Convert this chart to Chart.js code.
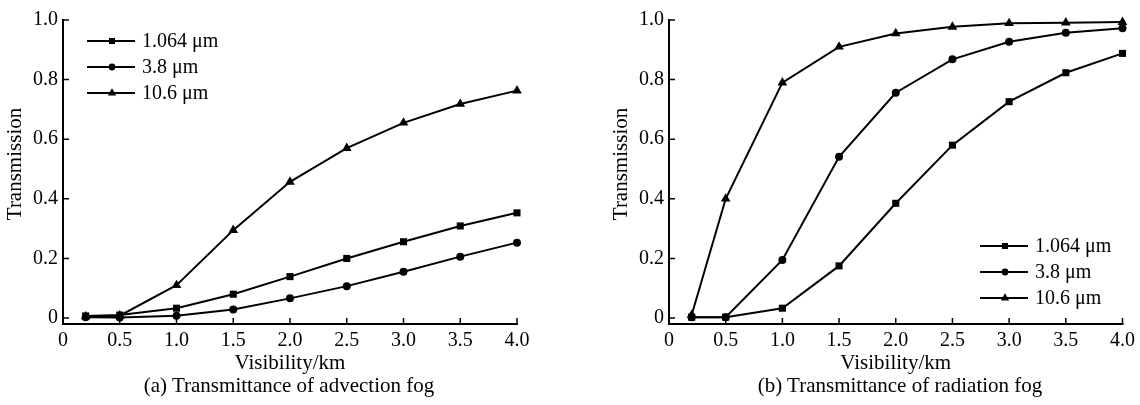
<!DOCTYPE html>
<html><head><meta charset="utf-8">
<script src="https://cdn.jsdelivr.net/npm/chart.js@4.4.1/dist/chart.umd.min.js"></script>
<style>
html,body{margin:0;padding:0;background:#fff}
body{width:1140px;height:405px;overflow:hidden;position:relative;font-family:"Liberation Serif","Times New Roman",serif}
.wrap{position:absolute;top:0;height:405px}
.cap{position:absolute;top:373px;font-size:21px;line-height:24px;color:#000;white-space:nowrap;transform:translateX(-50%)}
</style></head><body>
<div class="wrap" style="left:0;width:600px"><canvas id="c1"></canvas></div>
<div class="wrap" style="left:606px;width:534px"><canvas id="c2"></canvas></div>
<div class="cap" style="left:289px">(a) Transmittance of advection fog</div>
<div class="cap" style="left:900px">(b) Transmittance of radiation fog</div>
<script>
// ---- data ----
const visibility = [0.2, 0.5, 1.0, 1.5, 2.0, 2.5, 3.0, 3.5, 4.0];
const seriesLabels = ['1.064 \u03bcm', '3.8 \u03bcm', '10.6 \u03bcm'];
const advection1064 = [0.007, 0.010, 0.033, 0.080, 0.139, 0.200, 0.256, 0.309, 0.353];
const advection38   = [0.003, 0.002, 0.008, 0.029, 0.066, 0.107, 0.155, 0.206, 0.253];
const advection106  = [0.005, 0.008, 0.110, 0.295, 0.457, 0.570, 0.655, 0.718, 0.763];
const radiation1064 = [0.003, 0.003, 0.033, 0.175, 0.385, 0.580, 0.726, 0.823, 0.888];
const radiation38   = [0.003, 0.003, 0.195, 0.541, 0.756, 0.868, 0.927, 0.957, 0.972];
const radiation106  = [0.010, 0.400, 0.790, 0.910, 0.955, 0.977, 0.989, 0.991, 0.993];
const xTicks = [0, 0.5, 1.0, 1.5, 2.0, 2.5, 3.0, 3.5, 4.0];
const yTicks = [0, 0.2, 0.4, 0.6, 0.8, 1.0];
const xTitle = 'Visibility/km';
const yTitle = 'Transmission';

const FONT = '"Liberation Serif", "Times New Roman", serif';
const styles = [
  {pointStyle: 'rect', pointRadius: 5},
  {pointStyle: 'circle', pointRadius: 4},
  {pointStyle: 'triangle', pointRadius: 5.6}
];

function fmtX(v){ return v === 0 ? '0' : v.toFixed(1); }
function fmtY(v){ return v === 0 ? '0' : v.toFixed(1); }

function drawMarker(ctx, style, r, x, y){
  ctx.beginPath();
  if (style === 'rect') {
    const s = Math.SQRT1_2 * r;
    ctx.rect(x - s, y - s, 2*s, 2*s);
  } else if (style === 'circle') {
    ctx.arc(x, y, r, 0, Math.PI*2);
  } else {
    ctx.moveTo(x, y - r);
    ctx.lineTo(x + r*Math.cos(Math.PI/6), y + r/2);
    ctx.lineTo(x - r*Math.cos(Math.PI/6), y + r/2);
    ctx.closePath();
  }
  ctx.fill();
}

const framePlugin = {
  id: 'frame',
  afterDatasetsDraw(chart, args, opts) {
    const ctx = chart.ctx, xs = chart.scales.x, ys = chart.scales.y;
    ctx.save();
    ctx.strokeStyle = '#000';
    ctx.lineWidth = 2;
    ctx.lineCap = 'square';
    ctx.beginPath();
    ctx.moveTo(xs.left, ys.top);
    ctx.lineTo(xs.left, ys.bottom);
    ctx.lineTo(xs.right, ys.bottom);
    ctx.stroke();
    ctx.lineWidth = 1.5;
    ctx.lineCap = 'butt';
    ctx.beginPath();
    yTicks.forEach(v => { const p = ys.getPixelForValue(v); ctx.moveTo(xs.left, p); ctx.lineTo(xs.left + 6, p); });
    xTicks.forEach(v => { const p = xs.getPixelForValue(v); ctx.moveTo(p, ys.bottom); ctx.lineTo(p, ys.bottom - 6); });
    ctx.stroke();
    // legend
    const L = opts.legend;
    ctx.font = '20px ' + FONT;
    ctx.textBaseline = 'middle';
    ctx.textAlign = 'left';
    ctx.fillStyle = '#000';
    chart.data.datasets.forEach((ds, i) => {
      const cy = L.y + i * L.dy;
      ctx.lineWidth = 2;
      ctx.beginPath();
      ctx.moveTo(L.x, cy); ctx.lineTo(L.x + 48, cy);
      ctx.stroke();
      drawMarker(ctx, ds.pointStyle, ds.pointRadius * 0.85, L.x + 25, cy);
      ctx.fillText(ds.label, L.x + 55, cy + 1);
    });
    // y title (drawn slightly above the axis centre, as in the source)
    ctx.font = '21px ' + FONT;
    ctx.textAlign = 'center';
    ctx.textBaseline = 'middle';
    ctx.translate(15, (ys.top + ys.bottom) / 2 - 8);
    ctx.rotate(-Math.PI / 2);
    ctx.fillText(opts.yTitle, 0, 0);
    ctx.restore();
  }
};

function makeChart(id, series, legendPos, rightPad){
  const datasets = series.map((vals, i) => ({
    label: seriesLabels[i],
    data: visibility.map((x, j) => ({x: x, y: vals[j]})),
    borderColor: '#000',
    backgroundColor: '#000',
    borderWidth: 2,
    pointStyle: styles[i].pointStyle,
    pointRadius: styles[i].pointRadius,
    pointBorderWidth: 0,
    pointBackgroundColor: '#000',
    tension: 0,
    clip: false
  }));
  return new Chart(document.getElementById(id), {
    type: 'line',
    data: {datasets},
    plugins: [framePlugin],
    options: {
      responsive: true,
      maintainAspectRatio: false,
      animation: false,
      events: [],
      layout: {padding: {top: 20, right: rightPad, left: 0, bottom: 0}},
      plugins: {
        legend: {display: false},
        tooltip: {enabled: false},
        frame: {legend: legendPos, yTitle: yTitle}
      },
      scales: {
        x: {
          type: 'linear', min: 0, max: 4,
          afterFit: s => { s.height = 81; },
          afterBuildTicks: s => { s.ticks = xTicks.map(v => ({value: v})); },
          grid: {display: false, drawTicks: false},
          border: {display: false},
          ticks: {callback: v => fmtX(v), font: {family: FONT, size: 20}, color: '#000', padding: 5, maxRotation: 0, autoSkip: false},
          title: {display: true, text: xTitle, font: {family: FONT, size: 21}, color: '#000', padding: {top: 0, bottom: 29}}
        },
        y: {
          type: 'linear', min: -0.02, max: 1.0,
          afterFit: s => { s.width = 63; },
          afterBuildTicks: s => { s.ticks = yTicks.map(v => ({value: v})); },
          grid: {display: false, drawTicks: false},
          border: {display: false},
          ticks: {callback: v => fmtY(v), font: {family: FONT, size: 20}, color: '#000', padding: 5, autoSkip: false},
          title: {display: false}
        }
      }
    }
  });
}

makeChart('c1', [advection1064, advection38, advection106], {x: 87, y: 41, dy: 26}, 600 - 517);
makeChart('c2', [radiation1064, radiation38, radiation106], {x: 374, y: 246, dy: 26}, 534 - 517);
</script>
</body></html>
